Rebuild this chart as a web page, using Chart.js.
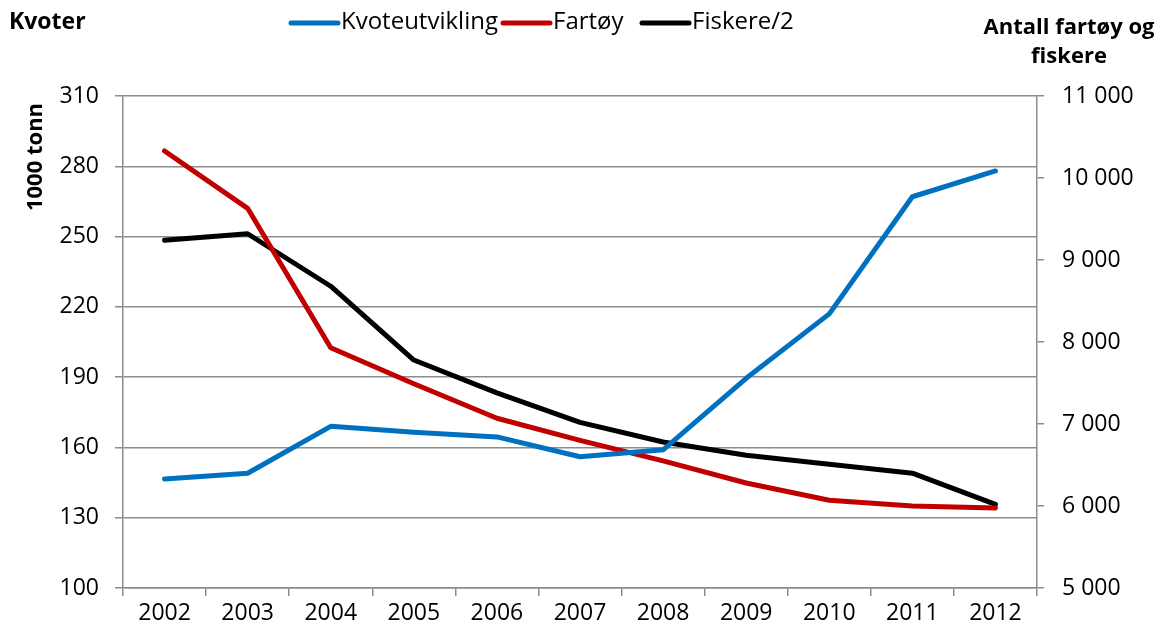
<!DOCTYPE html>
<html>
<head>
    <title>Kvoter, fartøy og fiskere</title>
    <style>
        body { margin: 0; background: #fff; }
    </style>
</head>
<body>
    <canvas id="myChart" width="1167" height="635"></canvas>

    <script src="https://cdn.jsdelivr.net/npm/chart.js"></script>
    <script>
        // Data
        const years = ['2002', '2003', '2004', '2005', '2006', '2007', '2008', '2009', '2010', '2011', '2012'];
        const kvoter = [146.5, 149, 169, 166.5, 164.5, 156, 159, 189.5, 217, 267, 278];
        const fartoy = [10330, 9630, 7930, 7490, 7070, 6800, 6550, 6280, 6070, 6000, 5975];
        const fiskere = [9240, 9320, 8680, 7780, 7380, 7020, 6780, 6620, 6510, 6400, 6020];
        const seriesNames = ['Kvoteutvikling', 'Fartøy', 'Fiskere/2'];
        const seriesColors = ['#0070C0', '#C00000', '#000000'];

        const fontFamily = "'Open Sans', 'Liberation Sans', sans-serif";
        const gridColor = '#8c8c8c';

        function spaced(v) {
            return String(v).replace(/\B(?=(\d{3})+(?!\d))/g, ' ');
        }

        // Draws the legend line keys and the axis titles
        const extraText = {
            id: 'extraText',
            afterDraw(chart) {
                const ctx = chart.ctx;
                ctx.save();
                ctx.fillStyle = '#000';
                ctx.textBaseline = 'middle';

                // legend
                const xs = [291, 503, 642];
                ctx.font = '24px ' + fontFamily;
                seriesNames.forEach((name, i) => {
                    ctx.strokeStyle = seriesColors[i];
                    ctx.lineWidth = 5;
                    ctx.lineCap = 'round';
                    ctx.beginPath();
                    ctx.moveTo(xs[i], 23);
                    ctx.lineTo(xs[i] + 47, 23);
                    ctx.stroke();
                    ctx.textAlign = 'left';
                    ctx.fillText(name, xs[i] + 50, 22);
                });

                // titles
                ctx.font = 'bold 23px ' + fontFamily;
                ctx.textAlign = 'left';
                ctx.fillText('Kvoter', 9, 22);
                ctx.font = 'bold 22px ' + fontFamily;
                ctx.textAlign = 'center';
                ctx.fillText('Antall fartøy og', 1069, 28);
                ctx.fillText('fiskere', 1069, 57);

                ctx.translate(36, 157);
                ctx.rotate(-Math.PI / 2);
                ctx.fillText('1000 tonn', 0, 0);
                ctx.restore();
            }
        };

        const ctx = document.getElementById('myChart').getContext('2d');
        const myChart = new Chart(ctx, {
            type: 'line',
            data: {
                labels: years,
                datasets: [
                    { label: seriesNames[0], data: kvoter, yAxisID: 'y', borderColor: seriesColors[0] },
                    { label: seriesNames[1], data: fartoy, yAxisID: 'y1', borderColor: seriesColors[1] },
                    { label: seriesNames[2], data: fiskere, yAxisID: 'y1', borderColor: seriesColors[2] }
                ].map(d => Object.assign(d, {
                    borderWidth: 5,
                    pointRadius: 0,
                    tension: 0,
                    fill: false,
                    borderCapStyle: 'round',
                    borderJoinStyle: 'round'
                }))
            },
            options: {
                responsive: false,
                animation: false,
                layout: { padding: { top: 96, left: 0, right: 0, bottom: 0 } },
                plugins: {
                    legend: { display: false },
                    tooltip: { enabled: false }
                },
                scales: {
                    x: {
                        offset: true,
                        grid: { offset: true, drawOnChartArea: false, color: gridColor, lineWidth: 1.5, tickLength: 8 },
                        border: { color: gridColor, width: 1.5 },
                        ticks: { color: '#000', font: { family: fontFamily, size: 23 }, padding: 4, maxRotation: 0 },
                        afterFit(scale) { scale.height = 47; }
                    },
                    y: {
                        position: 'left',
                        min: 100,
                        max: 310,
                        ticks: { stepSize: 30, color: '#000', font: { family: fontFamily, size: 23 }, padding: 16 },
                        grid: { color: gridColor, lineWidth: 1.5, tickLength: 8 },
                        border: { color: gridColor, width: 1.5 },
                        afterFit(scale) { scale.width = 123; }
                    },
                    y1: {
                        position: 'right',
                        min: 5000,
                        max: 11000,
                        ticks: { stepSize: 1000, color: '#000', font: { family: fontFamily, size: 23 }, padding: 18, callback: v => spaced(v) },
                        grid: { drawOnChartArea: false, color: gridColor, lineWidth: 1.5, tickLength: 7 },
                        border: { color: gridColor, width: 1.5 },
                        afterFit(scale) { scale.width = 130; }
                    }
                }
            },
            plugins: [extraText]
        });
    </script>
</body>
</html>
